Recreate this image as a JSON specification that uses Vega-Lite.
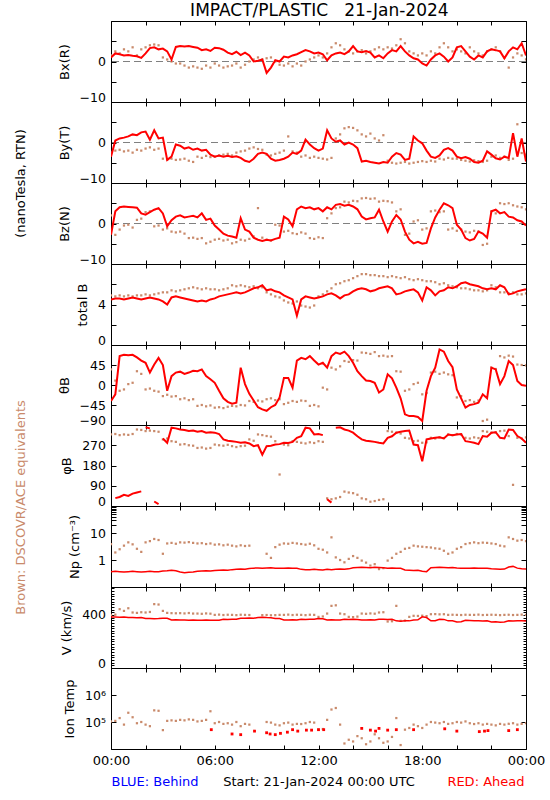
{
"$schema": "https://vega.github.io/schema/vega-lite/v6.json",
"background": "white",
"padding": {"left": 13, "top": 2, "right": 4, "bottom": 4},
"title": {"text": "IMPACT/PLASTIC\u00a0\u00a0\u00a021-Jan-2024", "font": "DejaVu Sans", "fontSize": 17, "fontWeight": "normal", "color": "#000000", "anchor": "middle", "baseline": "alphabetic", "offset": -13, "dx": 40},
"datasets": {
"main": [
{"t":0,"bxa":1.0,"bxd":1.5,"bya":-3.5,"byd":-2.5,"bza":-2.8,"bzd":2.0,"ba":4.5,"bd":4.9,"tha":-36,"thd":35,"pha":288,"phd":318,"npa":0.37,"npd":3.9,"va":385,"vd":400,"tid":105000},
{"t":0.25,"bxa":2.0,"bxd":2.5,"bya":0.5,"byd":-2.0,"bza":3.0,"bzd":-2.8,"ba":4.6,"bd":4.8,"tha":-21,"thd":10,"pha":null,"pha2":35,"phd":320,"npa":0.38,"npd":1.9,"va":385,"vd":402,"tid":110000},
{"t":0.5,"bxa":1.8,"bxd":2.0,"bya":1.0,"byd":-1.8,"bza":4.0,"bzd":-1.5,"ba":4.6,"bd":4.9,"tha":65,"thd":-13,"pha":null,"pha2":40,"phd":315,"npa":0.37,"npd":2.5,"va":383,"vd":443,"tid":140000},
{"t":0.75,"bxa":1.5,"bxd":3.0,"bya":1.2,"byd":-2.2,"bza":4.2,"bzd":-0.5,"ba":4.5,"bd":4.8,"tha":68,"thd":-10,"pha":null,"pha2":50,"phd":318,"npa":0.36,"npd":3.4,"va":384,"vd":430,"tid":80000},
{"t":1,"bxa":1.6,"bxd":2.5,"bya":1.5,"byd":-2.0,"bza":4.1,"bzd":-0.3,"ba":4.6,"bd":4.9,"tha":67,"thd":2,"pha":null,"pha2":45,"phd":316,"npa":0.37,"npd":4.5,"va":380,"vd":450,"tid":220000},
{"t":1.25,"bxa":1.4,"bxd":3.5,"bya":2.0,"byd":-2.5,"bza":4.0,"bzd":-1.0,"ba":4.7,"bd":4.8,"tha":68,"thd":5,"pha":null,"pha2":55,"phd":320,"npa":0.38,"npd":3.8,"va":381,"vd":418,"tid":150000},
{"t":1.5,"bxa":1.3,"bxd":1.5,"bya":1.8,"byd":-1.8,"bza":3.9,"bzd":0.9,"ba":4.6,"bd":4.9,"tha":62,"thd":31,"pha":null,"pha2":60,"phd":340,"npa":0.37,"npd":2.6,"va":379,"vd":415,"tid":90000},
{"t":1.75,"bxa":0.9,"bxd":3.0,"bya":2.5,"byd":-2.0,"bza":2.5,"bzd":1.2,"ba":4.5,"bd":4.9,"tha":55,"thd":25,"pha":null,"pha2":65,"phd":338,"npa":0.36,"npd":2.0,"va":380,"vd":420,"tid":100000},
{"t":2,"bxa":2.0,"bxd":3.5,"bya":2.7,"byd":-1.5,"bza":2.2,"bzd":2.8,"ba":4.6,"bd":5.0,"tha":50,"thd":-10,"pha":350,"phd":333,"npa":0.37,"npd":4.5,"va":372,"vd":418,"tid":80000},
{"t":2.25,"bxa":3.3,"bxd":4.0,"bya":0.7,"byd":-1.2,"bza":2.8,"bzd":3.0,"ba":4.7,"bd":4.9,"tha":28,"thd":-8,"pha":345,"phd":335,"npa":0.38,"npd":5.0,"va":373,"vd":422,"tid":70000},
{"t":2.5,"bxa":3.5,"bxd":4.2,"bya":3.0,"byd":-1.8,"bza":3.4,"bzd":-0.7,"ba":4.6,"bd":5.0,"tha":46,"thd":-13,"pha":null,"pha2":20,"phd":333,"npa":0.37,"npd":6.0,"va":371,"vd":481,"tid":270000},
{"t":2.75,"bxa":3.0,"bxd":4.0,"bya":1.0,"byd":-1.5,"bza":3.8,"bzd":-0.5,"ba":4.5,"bd":5.1,"tha":61,"thd":-15,"pha":null,"pha2":8,"phd":330,"npa":0.37,"npd":5.5,"va":372,"vd":478,"tid":260000},
{"t":3,"bxa":3.2,"bxd":1.0,"bya":1.2,"byd":-4.0,"bza":2.5,"bzd":-1.5,"ba":4.3,"bd":5.2,"tha":45,"thd":-25,"pha":300,"phd":296,"npa":0.39,"npd":1.7,"va":375,"vd":430,"tid":50000},
{"t":3.25,"bxa":2.5,"bxd":0.5,"bya":-4.3,"byd":-4.2,"bza":-0.7,"bzd":-1.2,"ba":4.0,"bd":5.2,"tha":-13,"thd":-22,"pha":281,"phd":300,"npa":0.40,"npd":4.1,"va":374,"vd":415,"tid":110000},
{"t":3.5,"bxa":0.5,"bxd":0.0,"bya":-3.5,"byd":-4.0,"bza":0.8,"bzd":-2.0,"ba":4.7,"bd":5.4,"tha":20,"thd":-26,"pha":348,"phd":288,"npa":0.42,"npd":4.3,"va":362,"vd":413,"tid":115000},
{"t":3.75,"bxa":3.6,"bxd":-0.5,"bya":-0.5,"byd":-4.3,"bza":1.7,"bzd":-2.2,"ba":4.8,"bd":5.3,"tha":28,"thd":-25,"pha":345,"phd":285,"npa":0.40,"npd":4.0,"va":363,"vd":412,"tid":110000},
{"t":4,"bxa":3.8,"bxd":-0.5,"bya":-0.8,"byd":-4.2,"bza":2.0,"bzd":-2.0,"ba":4.7,"bd":5.4,"tha":30,"thd":-32,"pha":340,"phd":273,"npa":0.36,"npd":4.5,"va":361,"vd":413,"tid":120000},
{"t":4.25,"bxa":3.7,"bxd":-1.0,"bya":-1.5,"byd":-4.0,"bza":1.5,"bzd":-2.5,"ba":4.6,"bd":5.5,"tha":25,"thd":-30,"pha":338,"phd":275,"npa":0.34,"npd":4.4,"va":362,"vd":411,"tid":115000},
{"t":4.5,"bxa":3.8,"bxd":-1.5,"bya":-1.2,"byd":-4.5,"bza":1.7,"bzd":-3.6,"ba":4.5,"bd":5.6,"tha":28,"thd":-34,"pha":333,"phd":270,"npa":0.35,"npd":4.6,"va":360,"vd":414,"tid":125000},
{"t":4.75,"bxa":3.6,"bxd":-1.2,"bya":-1.8,"byd":-4.8,"bza":1.9,"bzd":-3.5,"ba":4.4,"bd":5.7,"tha":32,"thd":-32,"pha":335,"phd":268,"npa":0.36,"npd":4.3,"va":361,"vd":410,"tid":120000},
{"t":5,"bxa":3.4,"bxd":-1.5,"bya":-1.5,"byd":-3.5,"bza":1.5,"bzd":-3.8,"ba":4.3,"bd":5.6,"tha":31,"thd":-47,"pha":330,"phd":258,"npa":0.38,"npd":4.1,"va":359,"vd":410,"tid":105000},
{"t":5.25,"bxa":2.8,"bxd":-1.8,"bya":-2.0,"byd":-3.8,"bza":2.5,"bzd":-3.6,"ba":4.4,"bd":5.5,"tha":35,"thd":-45,"pha":333,"phd":260,"npa":0.39,"npd":4.2,"va":360,"vd":408,"tid":110000},
{"t":5.5,"bxa":3.0,"bxd":-1.0,"bya":-1.8,"byd":-3.3,"bza":0.9,"bzd":-4.9,"ba":4.3,"bd":5.6,"tha":20,"thd":-48,"pha":326,"phd":255,"npa":0.40,"npd":3.9,"va":361,"vd":411,"tid":120000},
{"t":5.75,"bxa":2.6,"bxd":-1.5,"bya":-3.0,"byd":-3.6,"bza":1.2,"bzd":-4.5,"ba":4.5,"bd":5.5,"tha":13,"thd":-46,"pha":328,"phd":258,"npa":0.39,"npd":4.1,"va":360,"vd":409,"tid":250000},
{"t":6,"bxa":3.4,"bxd":-0.5,"bya":-3.5,"byd":-3.5,"bza":-0.5,"bzd":-4.0,"ba":4.6,"bd":5.5,"tha":5,"thd":-51,"pha":326,"phd":273,"npa":0.41,"npd":3.7,"va":359,"vd":400,"tid":90000},
{"t":6.25,"bxa":3.3,"bxd":-1.0,"bya":-3.2,"byd":-3.2,"bza":-1.5,"bzd":-3.8,"ba":4.8,"bd":5.4,"tha":-13,"thd":-50,"pha":320,"phd":270,"npa":0.42,"npd":3.8,"va":360,"vd":402,"tid":100000},
{"t":6.5,"bxa":2.9,"bxd":-1.5,"bya":-3.5,"byd":-3.0,"bza":-2.5,"bzd":-4.2,"ba":4.9,"bd":5.5,"tha":-30,"thd":-52,"pha":296,"phd":268,"npa":0.43,"npd":3.5,"va":367,"vd":399,"tid":85000},
{"t":6.75,"bxa":2.2,"bxd":-1.2,"bya":-3.3,"byd":-2.8,"bza":-3.0,"bzd":-4.0,"ba":5.0,"bd":5.6,"tha":-38,"thd":-49,"pha":290,"phd":272,"npa":0.42,"npd":3.7,"va":366,"vd":401,"tid":90000},
{"t":7,"bxa":1.8,"bxd":-1.0,"bya":-3.6,"byd":-3.2,"bza":-3.2,"bzd":-4.9,"ba":5.1,"bd":5.9,"tha":-42,"thd":-47,"pha":288,"phd":266,"npa":0.44,"npd":3.4,"va":367,"vd":400,"tid":80000},
{"t":7.25,"bxa":2.4,"bxd":-0.5,"bya":-3.4,"byd":-2.5,"bza":-3.5,"bzd":-4.6,"ba":5.2,"bd":5.8,"tha":-40,"thd":-48,"pha":285,"phd":262,"npa":0.45,"npd":3.2,"va":368,"vd":398,"tid":100000},
{"t":7.5,"bxa":1.6,"bxd":-1.5,"bya":-3.8,"byd":-2.2,"bza":1.3,"bzd":-4.0,"ba":5.1,"bd":5.9,"tha":39,"thd":-45,"pha":281,"phd":266,"npa":0.46,"npd":3.5,"va":375,"vd":401,"tid":70000},
{"t":7.75,"bxa":2.2,"bxd":-0.8,"bya":-4.5,"byd":-2.0,"bza":-1.5,"bzd":-4.2,"ba":5.2,"bd":5.8,"tha":2,"thd":-46,"pha":283,"phd":268,"npa":0.45,"npd":3.3,"va":374,"vd":400,"tid":85000},
{"t":8,"bxa":1.5,"bxd":0.0,"bya":-4.8,"byd":-1.5,"bza":-2.0,"bzd":-3.8,"ba":5.4,"bd":5.7,"tha":-20,"thd":-36,"pha":278,"phd":296,"npa":0.48,"npd":3.4,"va":376,"vd":399,"tid":80000},
{"t":8.25,"bxa":0.0,"bxd":0.5,"bya":-4.0,"byd":-1.2,"bza":-3.5,"bzd":-3.2,"ba":5.6,"bd":5.8,"tha":-35,"thd":-38,"pha":266,"phd":290,"npa":0.50,"npd":null,"va":375,"vd":null,"tid":null},
{"t":8.5,"bxa":0.2,"bxd":1.0,"bya":-2.8,"byd":-1.6,"bza":-4.0,"bzd":3.8,"ba":5.7,"bd":5.6,"tha":-50,"thd":-35,"pha":270,"phd":318,"npa":0.51,"npd":null,"va":380,"vd":null,"tid":null},
{"t":8.75,"bxa":0.5,"bxd":0.5,"bya":-2.5,"byd":-1.8,"bza":-4.3,"bzd":-3.5,"ba":5.9,"bd":5.7,"tha":-55,"thd":-37,"pha":228,"phd":315,"npa":0.50,"npd":null,"va":382,"vd":398,"tid":null},
{"t":9,"bxa":-2.8,"bxd":0.8,"bya":-2.8,"byd":-3.0,"bza":-4.0,"bzd":-4.0,"ba":5.4,"bd":5.2,"tha":-58,"thd":-32,"pha":266,"phd":311,"npa":0.51,"npd":1.7,"va":380,"vd":399,"tid":100000},
{"t":9.25,"bxa":-1.5,"bxd":1.0,"bya":-4.0,"byd":-3.2,"bza":-4.2,"bzd":-4.2,"ba":5.5,"bd":5.0,"tha":-50,"thd":-30,"pha":268,"phd":308,"npa":0.52,"npd":1.2,"va":379,"vd":397,"tid":95000},
{"t":9.5,"bxa":0.3,"bxd":0.0,"bya":-4.5,"byd":-2.8,"bza":-3.8,"bzd":-0.3,"ba":5.3,"bd":4.8,"tha":-45,"thd":-34,"pha":273,"phd":288,"npa":0.50,"npd":3.0,"va":372,"vd":398,"tid":80000},
{"t":9.75,"bxa":0.0,"bxd":-0.8,"bya":-4.3,"byd":-2.5,"bza":-3.5,"bzd":-0.5,"ba":5.2,"bd":4.7,"tha":-28,"thd":-32,"pha":275,"phd":140,"npa":0.49,"npd":3.7,"va":373,"vd":400,"tid":75000},
{"t":10,"bxa":1.2,"bxd":-1.0,"bya":-4.0,"byd":-2.0,"bza":1.7,"bzd":-2.0,"ba":4.9,"bd":4.4,"tha":16,"thd":-43,"pha":281,"phd":273,"npa":0.50,"npd":4.1,"va":362,"vd":400,"tid":90000},
{"t":10.25,"bxa":1.0,"bxd":-0.5,"bya":-3.5,"byd":1.5,"bza":1.0,"bzd":-1.8,"ba":4.7,"bd":4.2,"tha":16,"thd":-40,"pha":280,"phd":270,"npa":0.51,"npd":4.0,"va":361,"vd":402,"tid":95000},
{"t":10.5,"bxa":1.5,"bxd":-1.2,"bya":-2.5,"byd":-2.2,"bza":-0.7,"bzd":-2.4,"ba":4.5,"bd":4.1,"tha":-6,"thd":-36,"pha":285,"phd":288,"npa":0.50,"npd":4.3,"va":363,"vd":399,"tid":80000},
{"t":10.75,"bxa":1.8,"bxd":-0.5,"bya":-2.8,"byd":-2.5,"bza":3.5,"bzd":-2.6,"ba":2.9,"bd":4.3,"tha":55,"thd":-38,"pha":303,"phd":285,"npa":0.49,"npd":4.1,"va":362,"vd":401,"tid":85000},
{"t":11,"bxa":2.3,"bxd":-1.0,"bya":-2.0,"byd":-3.5,"bza":4.2,"bzd":-2.2,"ba":4.5,"bd":3.9,"tha":61,"thd":-35,"pha":310,"phd":281,"npa":0.45,"npd":3.9,"va":367,"vd":400,"tid":84000},
{"t":11.25,"bxa":2.8,"bxd":0.0,"bya":0.7,"byd":-3.2,"bza":3.8,"bzd":-2.5,"ba":4.8,"bd":3.8,"tha":58,"thd":-36,"pha":348,"phd":278,"npa":0.44,"npd":3.7,"va":366,"vd":398,"tid":90000},
{"t":11.5,"bxa":2.5,"bxd":0.5,"bya":-0.5,"byd":-3.8,"bza":4.0,"bzd":-3.6,"ba":4.7,"bd":3.7,"tha":65,"thd":-47,"pha":345,"phd":283,"npa":0.44,"npd":4.0,"va":368,"vd":401,"tid":100000},
{"t":11.75,"bxa":2.0,"bxd":1.0,"bya":-1.4,"byd":-3.5,"bza":3.5,"bzd":-3.8,"ba":4.6,"bd":3.9,"tha":55,"thd":-45,"pha":318,"phd":280,"npa":0.45,"npd":3.5,"va":367,"vd":400,"tid":95000},
{"t":12,"bxa":2.2,"bxd":1.5,"bya":-2.0,"byd":-3.8,"bza":3.8,"bzd":-3.4,"ba":4.7,"bd":4.8,"tha":46,"thd":-48,"pha":320,"phd":288,"npa":0.44,"npd":2.6,"va":372,"vd":385,"tid":52000},
{"t":12.25,"bxa":1.8,"bxd":1.0,"bya":-1.5,"byd":-4.0,"bza":3.0,"bzd":-3.6,"ba":4.8,"bd":5.0,"tha":50,"thd":-6,"pha":315,"phd":285,"npa":0.43,"npd":2.4,"va":371,"vd":388,"tid":55000},
{"t":12.5,"bxa":0.3,"bxd":2.0,"bya":3.0,"byd":-4.2,"bza":4.0,"bzd":1.3,"ba":5.0,"bd":5.3,"tha":39,"thd":-10,"pha":null,"pha2":30,"phd":34,"npa":0.45,"npd":1.9,"va":362,"vd":410,"tid":120000},
{"t":12.75,"bxa":1.5,"bxd":3.5,"bya":1.0,"byd":-3.8,"bza":3.5,"bzd":2.5,"ba":5.1,"bd":5.6,"tha":65,"thd":39,"pha":null,"pha2":15,"phd":30,"npa":0.44,"npd":6.9,"va":363,"vd":468,"tid":290000},
{"t":13,"bxa":2.0,"bxd":4.5,"bya":0.2,"byd":1.0,"bza":4.6,"bzd":3.8,"ba":4.9,"bd":6.0,"tha":73,"thd":35,"pha":348,"phd":34,"npa":0.45,"npd":1.25,"va":361,"vd":472,"tid":330000},
{"t":13.25,"bxa":2.2,"bxd":4.0,"bya":0.5,"byd":2.0,"bza":4.8,"bzd":4.0,"ba":4.6,"bd":6.1,"tha":70,"thd":42,"pha":350,"phd":40,"npa":0.46,"npd":1.0,"va":362,"vd":410,"tid":80000},
{"t":13.5,"bxa":1.8,"bxd":3.0,"bya":-0.5,"byd":3.5,"bza":4.4,"bzd":5.4,"ba":4.9,"bd":6.3,"tha":75,"thd":54,"pha":340,"phd":64,"npa":0.45,"npd":0.82,"va":367,"vd":405,"tid":16000},
{"t":13.75,"bxa":2.5,"bxd":2.5,"bya":0.0,"byd":3.8,"bza":4.6,"bzd":5.2,"ba":5.0,"bd":6.4,"tha":65,"thd":52,"pha":335,"phd":60,"npa":0.47,"npd":1.1,"va":366,"vd":385,"tid":22000},
{"t":14,"bxa":3.8,"bxd":2.0,"bya":-0.5,"byd":3.6,"bza":4.2,"bzd":5.6,"ba":5.3,"bd":6.6,"tha":50,"thd":56,"pha":326,"phd":57,"npa":0.52,"npd":1.4,"va":368,"vd":383,"tid":19000},
{"t":14.25,"bxa":2.5,"bxd":2.5,"bya":-1.4,"byd":3.0,"bza":3.5,"bzd":5.5,"ba":5.5,"bd":6.8,"tha":31,"thd":55,"pha":310,"phd":50,"npa":0.53,"npd":1.2,"va":366,"vd":387,"tid":30000},
{"t":14.5,"bxa":2.3,"bxd":2.8,"bya":-4.7,"byd":2.0,"bza":1.7,"bzd":6.2,"ba":5.6,"bd":7.0,"tha":20,"thd":73,"pha":296,"phd":34,"npa":0.54,"npd":0.95,"va":362,"vd":410,"tid":25000},
{"t":14.75,"bxa":2.6,"bxd":2.0,"bya":-4.5,"byd":1.5,"bza":1.0,"bzd":6.3,"ba":5.5,"bd":7.0,"tha":10,"thd":72,"pha":290,"phd":30,"npa":0.53,"npd":0.8,"va":361,"vd":408,"tid":15000},
{"t":15,"bxa":2.2,"bxd":2.5,"bya":-4.8,"byd":2.2,"bza":1.3,"bzd":6.1,"ba":5.3,"bd":6.9,"tha":9,"thd":70,"pha":288,"phd":19,"npa":0.52,"npd":0.62,"va":363,"vd":411,"tid":19000},
{"t":15.25,"bxa":1.0,"bxd":3.0,"bya":-5.0,"byd":1.0,"bza":1.5,"bzd":6.2,"ba":5.4,"bd":6.9,"tha":5,"thd":74,"pha":285,"phd":22,"npa":0.54,"npd":0.7,"va":362,"vd":409,"tid":35000},
{"t":15.5,"bxa":1.5,"bxd":3.5,"bya":-5.2,"byd":0.5,"bza":3.4,"bzd":5.4,"ba":5.6,"bd":6.8,"tha":-17,"thd":65,"pha":281,"phd":27,"npa":0.53,"npd":0.46,"va":367,"vd":418,"tid":25000},
{"t":15.75,"bxa":0.8,"bxd":3.0,"bya":-4.8,"byd":1.8,"bza":0.5,"bzd":5.6,"ba":5.7,"bd":6.8,"tha":-10,"thd":66,"pha":278,"phd":30,"npa":0.52,"npd":0.5,"va":368,"vd":420,"tid":17000},
{"t":16,"bxa":2.0,"bxd":3.5,"bya":-5.0,"byd":-4.5,"bza":-2.0,"bzd":5.5,"ba":5.8,"bd":6.7,"tha":24,"thd":64,"pha":303,"phd":333,"npa":0.50,"npd":0.95,"va":366,"vd":350,"tid":19000},
{"t":16.25,"bxa":2.8,"bxd":3.2,"bya":-3.5,"byd":-5.0,"bza":0.5,"bzd":5.2,"ba":5.6,"bd":6.8,"tha":15,"thd":65,"pha":310,"phd":330,"npa":0.51,"npd":1.2,"va":367,"vd":352,"tid":28000},
{"t":16.5,"bxa":2.5,"bxd":4.0,"bya":-2.6,"byd":-5.2,"bza":2.1,"bzd":3.0,"ba":5.0,"bd":6.7,"tha":-6,"thd":31,"pha":326,"phd":326,"npa":0.50,"npd":1.7,"va":355,"vd":468,"tid":140000},
{"t":16.75,"bxa":3.8,"bxd":5.5,"bya":-3.0,"byd":-5.0,"bza":1.0,"bzd":3.5,"ba":5.1,"bd":6.6,"tha":-30,"thd":30,"pha":330,"phd":322,"npa":0.49,"npd":2.0,"va":352,"vd":355,"tid":14000},
{"t":17,"bxa":2.5,"bxd":4.5,"bya":-4.3,"byd":-4.8,"bza":-2.0,"bzd":-2.8,"ba":5.3,"bd":6.7,"tha":-66,"thd":-13,"pha":333,"phd":303,"npa":0.43,"npd":2.6,"va":356,"vd":357,"tid":52000},
{"t":17.25,"bxa":1.5,"bxd":2.5,"bya":-4.0,"byd":-5.2,"bza":-4.0,"bzd":-2.5,"ba":5.4,"bd":6.5,"tha":-70,"thd":-10,"pha":335,"phd":300,"npa":0.42,"npd":2.8,"va":355,"vd":385,"tid":60000},
{"t":17.5,"bxa":0.8,"bxd":2.0,"bya":1.5,"byd":-5.0,"bza":-4.9,"bzd":0.5,"ba":5.5,"bd":6.4,"tha":-70,"thd":2,"pha":273,"phd":288,"npa":0.41,"npd":3.4,"va":362,"vd":393,"tid":80000},
{"t":17.75,"bxa":0.5,"bxd":1.5,"bya":0.5,"byd":-4.8,"bza":-4.5,"bzd":0.8,"ba":5.2,"bd":6.5,"tha":-72,"thd":5,"pha":270,"phd":290,"npa":0.42,"npd":3.2,"va":363,"vd":392,"tid":70000},
{"t":18,"bxa":-0.5,"bxd":2.0,"bya":-0.2,"byd":-4.6,"bza":-5.0,"bzd":-1.5,"ba":4.4,"bd":6.4,"tha":-81,"thd":-21,"pha":199,"phd":281,"npa":0.38,"npd":3.1,"va":385,"vd":394,"tid":60000},
{"t":18.25,"bxa":-1.0,"bxd":1.5,"bya":-2.0,"byd":-4.8,"bza":-4.8,"bzd":-1.2,"ba":5.7,"bd":6.3,"tha":-13,"thd":-18,"pha":296,"phd":283,"npa":0.37,"npd":3.0,"va":380,"vd":391,"tid":80000},
{"t":18.5,"bxa":0.5,"bxd":2.5,"bya":-3.5,"byd":-4.5,"bza":-1.2,"bzd":3.0,"ba":5.4,"bd":6.3,"tha":20,"thd":28,"pha":300,"phd":303,"npa":0.52,"npd":2.9,"va":355,"vd":405,"tid":100000},
{"t":18.75,"bxa":1.5,"bxd":2.0,"bya":-3.8,"byd":-4.7,"bza":1.5,"bzd":3.2,"ba":4.9,"bd":6.2,"tha":39,"thd":30,"pha":303,"phd":300,"npa":0.53,"npd":2.7,"va":356,"vd":406,"tid":95000},
{"t":19,"bxa":2.0,"bxd":3.5,"bya":-3.2,"byd":-4.0,"bza":3.4,"bzd":2.8,"ba":5.3,"bd":6.0,"tha":80,"thd":25,"pha":305,"phd":305,"npa":0.54,"npd":2.6,"va":367,"vd":404,"tid":90000},
{"t":19.25,"bxa":1.2,"bxd":4.5,"bya":-1.8,"byd":-4.2,"bza":5.0,"bzd":3.0,"ba":5.4,"bd":6.1,"tha":75,"thd":28,"pha":300,"phd":302,"npa":0.53,"npd":2.2,"va":366,"vd":405,"tid":100000},
{"t":19.5,"bxa":0.0,"bxd":3.5,"bya":-1.4,"byd":-3.8,"bza":4.5,"bzd":-1.5,"ba":5.7,"bd":5.9,"tha":54,"thd":24,"pha":318,"phd":318,"npa":0.52,"npd":1.7,"va":355,"vd":400,"tid":85000},
{"t":19.75,"bxa":1.0,"bxd":2.5,"bya":-2.0,"byd":-4.0,"bza":3.8,"bzd":-1.2,"ba":5.6,"bd":5.8,"tha":40,"thd":22,"pha":315,"phd":315,"npa":0.53,"npd":1.9,"va":356,"vd":401,"tid":90000},
{"t":20,"bxa":3.5,"bxd":3.0,"bya":-3.5,"byd":-4.0,"bza":-0.3,"bzd":-1.8,"ba":5.8,"bd":5.7,"tha":-10,"thd":-28,"pha":318,"phd":320,"npa":0.51,"npd":2.6,"va":347,"vd":400,"tid":100000},
{"t":20.25,"bxa":3.8,"bxd":2.5,"bya":-3.9,"byd":-4.3,"bza":-1.5,"bzd":-1.5,"ba":6.1,"bd":5.6,"tha":-30,"thd":-25,"pha":320,"phd":318,"npa":0.50,"npd":3.0,"va":348,"vd":399,"tid":95000},
{"t":20.5,"bxa":2.5,"bxd":2.0,"bya":-3.6,"byd":-4.5,"bza":-3.6,"bzd":-2.0,"ba":6.2,"bd":5.6,"tha":-51,"thd":-36,"pha":288,"phd":303,"npa":0.49,"npd":3.9,"va":360,"vd":401,"tid":105000},
{"t":20.75,"bxa":1.2,"bxd":3.5,"bya":-4.0,"byd":-4.7,"bza":-4.2,"bzd":-2.2,"ba":6.0,"bd":5.5,"tha":-45,"thd":-34,"pha":285,"phd":300,"npa":0.50,"npd":4.2,"va":358,"vd":400,"tid":90000},
{"t":21,"bxa":0.5,"bxd":2.5,"bya":-4.8,"byd":-4.4,"bza":-3.8,"bzd":-1.8,"ba":5.9,"bd":5.4,"tha":-43,"thd":-38,"pha":281,"phd":305,"npa":0.51,"npd":4.5,"va":355,"vd":400,"tid":84000},
{"t":21.25,"bxa":1.5,"bxd":2.0,"bya":-5.0,"byd":-4.6,"bza":-2.0,"bzd":-2.0,"ba":5.8,"bd":5.4,"tha":-40,"thd":-35,"pha":275,"phd":302,"npa":0.50,"npd":4.2,"va":356,"vd":402,"tid":90000},
{"t":21.5,"bxa":1.0,"bxd":1.5,"bya":-4.5,"byd":-4.8,"bza":-2.5,"bzd":-5.3,"ba":5.6,"bd":5.3,"tha":-21,"thd":-81,"pha":311,"phd":333,"npa":0.50,"npd":4.4,"va":354,"vd":399,"tid":80000},
{"t":21.75,"bxa":2.5,"bxd":2.5,"bya":-2.2,"byd":-4.5,"bza":-3.5,"bzd":-5.0,"ba":5.5,"bd":5.4,"tha":-30,"thd":-78,"pha":308,"phd":330,"npa":0.49,"npd":4.3,"va":355,"vd":400,"tid":85000},
{"t":22,"bxa":3.0,"bxd":3.0,"bya":-3.0,"byd":-3.5,"bza":3.0,"bzd":3.0,"ba":5.6,"bd":5.9,"tha":39,"thd":39,"pha":326,"phd":326,"npa":0.47,"npd":4.1,"va":347,"vd":401,"tid":80000},
{"t":22.25,"bxa":2.8,"bxd":3.5,"bya":-3.9,"byd":-3.2,"bza":3.4,"bzd":2.5,"ba":5.5,"bd":5.7,"tha":35,"thd":36,"pha":328,"phd":328,"npa":0.46,"npd":3.9,"va":348,"vd":400,"tid":75000},
{"t":22.5,"bxa":2.5,"bxd":2.5,"bya":-4.2,"byd":-3.8,"bza":2.5,"bzd":5.0,"ba":5.9,"bd":5.2,"tha":2,"thd":65,"pha":303,"phd":333,"npa":0.45,"npd":3.4,"va":345,"vd":398,"tid":85000},
{"t":22.75,"bxa":0.8,"bxd":1.0,"bya":-3.5,"byd":-3.5,"bza":2.8,"bzd":4.8,"ba":5.7,"bd":5.2,"tha":20,"thd":62,"pha":300,"phd":335,"npa":0.46,"npd":3.2,"va":347,"vd":400,"tid":80000},
{"t":23,"bxa":2.5,"bxd":-1.5,"bya":-3.8,"byd":-4.3,"bza":1.7,"bzd":5.0,"ba":5.0,"bd":5.1,"tha":54,"thd":66,"pha":340,"phd":311,"npa":0.55,"npd":6.9,"va":355,"vd":401,"tid":86000},
{"t":23.25,"bxa":3.5,"bxd":1.0,"bya":2.3,"byd":-4.0,"bza":1.5,"bzd":4.5,"ba":5.1,"bd":5.2,"tha":45,"thd":64,"pha":338,"phd":94,"npa":0.58,"npd":6.0,"va":354,"vd":399,"tid":90000},
{"t":23.5,"bxa":3.0,"bxd":2.0,"bya":-3.5,"byd":4.5,"bza":0.8,"bzd":4.2,"ba":5.3,"bd":5.0,"tha":9,"thd":46,"pha":311,"phd":303,"npa":0.50,"npd":5.2,"va":356,"vd":400,"tid":80000},
{"t":23.75,"bxa":4.5,"bxd":1.5,"bya":1.0,"byd":-2.6,"bza":0.5,"bzd":4.0,"ba":5.4,"bd":5.0,"tha":0,"thd":45,"pha":300,"phd":300,"npa":0.47,"npd":5.5,"va":355,"vd":402,"tid":85000},
{"t":24,"bxa":1.5,"bxd":0.5,"bya":-4.7,"byd":-3.0,"bza":-0.5,"bzd":3.5,"ba":5.5,"bd":5.1,"tha":-2,"thd":44,"pha":281,"phd":305,"npa":0.46,"npd":5.0,"va":353,"vd":400,"tid":90000}
],
"tia": [
{"t":5.8,"ti":52000},{"t":7.0,"ti":36000},{"t":7.5,"ti":34000},{"t":8.3,"ti":46000},{"t":9.0,"ti":40000},{"t":9.2,"ti":36000},{"t":9.5,"ti":34000},{"t":9.8,"ti":38000},{"t":10.2,"ti":42000},{"t":10.5,"ti":52000},{"t":10.8,"ti":46000},{"t":11.3,"ti":50000},{"t":11.6,"ti":50000},{"t":12.0,"ti":52000},{"t":12.3,"ti":52000},{"t":14.5,"ti":58000},{"t":15.0,"ti":50000},{"t":15.3,"ti":46000},{"t":15.5,"ti":58000},{"t":16.0,"ti":50000},{"t":16.5,"ti":52000},{"t":17.5,"ti":52000},{"t":19.3,"ti":56000},{"t":20.0,"ti":46000},{"t":21.3,"ti":44000},{"t":21.6,"ti":46000},{"t":21.8,"ti":48000},{"t":23.0,"ti":48000},{"t":23.5,"ti":52000}
]
},
"data": {"name": "main"},
"spacing": 0,
"bounds": "flush",
"vconcat": [
{"width": 415, "height": 81,
 "layer": [
  {"mark": {"type": "rule", "color": "#808080", "strokeDash": [7, 4], "strokeWidth": 1}, "encoding": {"y": {"datum": 0, "type": "quantitative", "axis": null}}},
  {"mark": {"type": "point", "shape": "square", "filled": true, "size": 5, "opacity": 1, "color": "#c98a6b", "clip": true},
   "encoding": {"x": {"field": "t", "type": "quantitative", "scale": {"domain": [0, 24], "nice": false, "zero": false}, "axis": {"orient": "bottom", "values": [0,2,4,6,8,10,12,14,16,18,20,22,24], "labels": false, "title": null}},
    "y": {"field": "bxd", "type": "quantitative", "scale": {"domain": [-10, 10], "nice": false, "zero": false}, "axis": {"orient": "left", "values": [-10,-5,0,5,10], "labelExpr": "datum.value == 0 || datum.value == -10 ? datum.label : ''", "title": "Bx(R)"}}}},
  {"mark": {"type": "line", "color": "#ff0000", "strokeWidth": 2, "clip": true, "invalid": "break-paths-filter-domains"},
   "encoding": {"x": {"field": "t", "type": "quantitative", "axis": {"orient": "top", "values": [0,2,4,6,8,10,12,14,16,18,20,22,24], "labels": false, "title": null}},
    "y": {"field": "bxa", "type": "quantitative", "axis": {"orient": "right", "values": [-10,-5,0,5,10], "labels": false, "title": null}}}}
 ],
 "resolve": {"axis": {"x": "independent", "y": "independent"}}},
{"width": 415, "height": 81,
 "layer": [
  {"mark": {"type": "rule", "color": "#808080", "strokeDash": [7, 4], "strokeWidth": 1}, "encoding": {"y": {"datum": 0, "type": "quantitative", "axis": null}}},
  {"mark": {"type": "point", "shape": "square", "filled": true, "size": 5, "opacity": 1, "color": "#c98a6b", "clip": true},
   "encoding": {"x": {"field": "t", "type": "quantitative", "scale": {"domain": [0, 24], "nice": false, "zero": false}, "axis": {"orient": "bottom", "values": [0,2,4,6,8,10,12,14,16,18,20,22,24], "labels": false, "title": null}},
    "y": {"field": "byd", "type": "quantitative", "scale": {"domain": [-10, 10], "nice": false, "zero": false}, "axis": {"orient": "left", "values": [-10,-5,0,5,10], "labelExpr": "datum.value == 0 || datum.value == -10 ? datum.label : ''", "title": "By(T)"}}}},
  {"mark": {"type": "line", "color": "#ff0000", "strokeWidth": 2, "clip": true, "invalid": "break-paths-filter-domains"},
   "encoding": {"x": {"field": "t", "type": "quantitative", "axis": {"orient": "top", "values": [0,2,4,6,8,10,12,14,16,18,20,22,24], "labels": false, "title": null}},
    "y": {"field": "bya", "type": "quantitative", "axis": {"orient": "right", "values": [-10,-5,0,5,10], "labels": false, "title": null}}}}
 ],
 "resolve": {"axis": {"x": "independent", "y": "independent"}}},
{"width": 415, "height": 81,
 "layer": [
  {"mark": {"type": "rule", "color": "#808080", "strokeDash": [7, 4], "strokeWidth": 1}, "encoding": {"y": {"datum": 0, "type": "quantitative", "axis": {"orient": "left", "labels": false, "ticks": false, "title": "(nanoTesla, RTN)", "titleX": -91, "titleY": 0, "titleAngle": 270, "titleAlign": "center", "titleBaseline": "middle", "titleFontSize": 13}}}},
  {"mark": {"type": "point", "shape": "square", "filled": true, "size": 5, "opacity": 1, "color": "#c98a6b", "clip": true},
   "encoding": {"x": {"field": "t", "type": "quantitative", "scale": {"domain": [0, 24], "nice": false, "zero": false}, "axis": {"orient": "bottom", "values": [0,2,4,6,8,10,12,14,16,18,20,22,24], "labels": false, "title": null}},
    "y": {"field": "bzd", "type": "quantitative", "scale": {"domain": [-10, 10], "nice": false, "zero": false}, "axis": {"orient": "left", "values": [-10,-5,0,5,10], "labelExpr": "datum.value == 0 || datum.value == -10 ? datum.label : ''", "title": "Bz(N)"}}}},
  {"mark": {"type": "line", "color": "#ff0000", "strokeWidth": 2, "clip": true, "invalid": "break-paths-filter-domains"},
   "encoding": {"x": {"field": "t", "type": "quantitative", "axis": {"orient": "top", "values": [0,2,4,6,8,10,12,14,16,18,20,22,24], "labels": false, "title": null}},
    "y": {"field": "bza", "type": "quantitative", "axis": {"orient": "right", "values": [-10,-5,0,5,10], "labels": false, "title": null}}}}
 ],
 "resolve": {"axis": {"x": "independent", "y": "independent"}}},
{"width": 415, "height": 81,
 "layer": [
  {"mark": {"type": "point", "shape": "square", "filled": true, "size": 5, "opacity": 1, "color": "#c98a6b", "clip": true},
   "encoding": {"x": {"field": "t", "type": "quantitative", "scale": {"domain": [0, 24], "nice": false, "zero": false}, "axis": {"orient": "bottom", "values": [0,2,4,6,8,10,12,14,16,18,20,22,24], "labels": false, "title": null}},
    "y": {"field": "bd", "type": "quantitative", "scale": {"domain": [0, 8], "nice": false, "zero": false}, "axis": {"orient": "left", "values": [0,2,4,6,8], "labelExpr": "datum.value == 0 || datum.value == 4 ? datum.label : ''", "title": "total B"}}}},
  {"mark": {"type": "line", "color": "#ff0000", "strokeWidth": 2, "clip": true, "invalid": "break-paths-filter-domains"},
   "encoding": {"x": {"field": "t", "type": "quantitative", "axis": {"orient": "top", "values": [0,2,4,6,8,10,12,14,16,18,20,22,24], "labels": false, "title": null}},
    "y": {"field": "ba", "type": "quantitative", "axis": {"orient": "right", "values": [0,2,4,6,8], "labels": false, "title": null}}}}
 ],
 "resolve": {"axis": {"x": "independent", "y": "independent"}}},
{"width": 415, "height": 80,
 "layer": [
  {"mark": {"type": "point", "shape": "square", "filled": true, "size": 5, "opacity": 1, "color": "#c98a6b", "clip": true},
   "encoding": {"x": {"field": "t", "type": "quantitative", "scale": {"domain": [0, 24], "nice": false, "zero": false}, "axis": {"orient": "bottom", "values": [0,2,4,6,8,10,12,14,16,18,20,22,24], "labels": false, "title": null}},
    "y": {"field": "thd", "type": "quantitative", "scale": {"domain": [-90, 90], "nice": false, "zero": false}, "axis": {"orient": "left", "values": [-90,-45,0,45,90], "labelExpr": "datum.value == 90 ? '' : datum.label", "title": "θB"}}}},
  {"mark": {"type": "line", "color": "#ff0000", "strokeWidth": 2, "clip": true, "invalid": "break-paths-filter-domains"},
   "encoding": {"x": {"field": "t", "type": "quantitative", "axis": {"orient": "top", "values": [0,2,4,6,8,10,12,14,16,18,20,22,24], "labels": false, "title": null}},
    "y": {"field": "tha", "type": "quantitative", "axis": {"orient": "right", "values": [-90,-45,0,45,90], "labels": false, "title": null}}}}
 ],
 "resolve": {"axis": {"x": "independent", "y": "independent"}}},
{"width": 415, "height": 81,
 "layer": [
  {"mark": {"type": "point", "shape": "square", "filled": true, "size": 5, "opacity": 1, "color": "#c98a6b", "clip": true},
   "encoding": {"x": {"field": "t", "type": "quantitative", "scale": {"domain": [0, 24], "nice": false, "zero": false}, "axis": {"orient": "bottom", "values": [0,2,4,6,8,10,12,14,16,18,20,22,24], "labels": false, "title": null}},
    "y": {"field": "phd", "type": "quantitative", "scale": {"domain": [0, 360], "nice": false, "zero": false}, "axis": {"orient": "left", "values": [0,90,180,270,360], "labelExpr": "datum.value == 360 ? '' : datum.label", "title": "φB"}}}},
  {"mark": {"type": "line", "color": "#ff0000", "strokeWidth": 2, "clip": true, "invalid": "break-paths-filter-domains"},
   "encoding": {"x": {"field": "t", "type": "quantitative", "axis": {"orient": "top", "values": [0,2,4,6,8,10,12,14,16,18,20,22,24], "labels": false, "title": null}},
    "y": {"field": "pha", "type": "quantitative", "axis": {"orient": "right", "values": [0,90,180,270,360], "labels": false, "title": null}}}},
  {"mark": {"type": "line", "color": "#ff0000", "strokeWidth": 2, "clip": true, "invalid": "break-paths-filter-domains"},
   "encoding": {"x": {"field": "t", "type": "quantitative", "axis": null},
    "y": {"field": "pha2", "type": "quantitative", "axis": null}}}
 ],
 "resolve": {"axis": {"x": "independent", "y": "independent"}}},
{"width": 415, "height": 81,
 "layer": [
  {"mark": {"type": "point", "shape": "square", "filled": true, "size": 5, "opacity": 1, "color": "#c98a6b", "clip": true},
   "encoding": {"x": {"field": "t", "type": "quantitative", "scale": {"domain": [0, 24], "nice": false, "zero": false}, "axis": {"orient": "bottom", "values": [0,2,4,6,8,10,12,14,16,18,20,22,24], "labels": false, "title": null}},
    "y": {"field": "npd", "type": "quantitative", "scale": {"type": "log", "domain": [0.1, 100], "nice": false}, "axis": {"orient": "left", "values": [0.1,1,10,100,20,30,40,50,60,70,80,90], "labelExpr": "datum.value == 1 ? '1' : datum.value == 10 ? '10' : ''", "title": "Np (cm⁻³)"}}}},
  {"mark": {"type": "line", "color": "#ff0000", "strokeWidth": 1.5, "clip": true, "invalid": "break-paths-filter-domains"},
   "encoding": {"x": {"field": "t", "type": "quantitative", "axis": {"orient": "top", "values": [0,2,4,6,8,10,12,14,16,18,20,22,24], "labels": false, "title": null}},
    "y": {"field": "npa", "type": "quantitative", "axis": {"orient": "right", "values": [0.1,1,10,100,20,30,40,50,60,70,80,90], "labels": false, "title": null}}}},
  {"mark": {"type": "point", "opacity": 0},
   "encoding": {"x": {"field": "t", "type": "quantitative", "axis": null},
    "y": {"field": "npd", "type": "quantitative", "axis": {"orient": "left", "labels": false, "ticks": false, "title": "Brown: DSCOVR/ACE equivalents", "titleColor": "#c98a6b", "titleX": -91, "titleY": 1, "titleAngle": 270, "titleAlign": "center", "titleBaseline": "middle", "titleFontSize": 13}}}}
 ],
 "resolve": {"axis": {"x": "independent", "y": "independent"}}},
{"width": 415, "height": 81,
 "layer": [
  {"mark": {"type": "point", "shape": "square", "filled": true, "size": 5, "opacity": 1, "color": "#c98a6b", "clip": true},
   "encoding": {"x": {"field": "t", "type": "quantitative", "scale": {"domain": [0, 24], "nice": false, "zero": false}, "axis": {"orient": "bottom", "values": [0,2,4,6,8,10,12,14,16,18,20,22,24], "labels": false, "title": null}},
    "y": {"field": "vd", "type": "quantitative", "scale": {"domain": [0, 610], "nice": false, "zero": false}, "axis": {"orient": "left", "values": [0,20,40,60,80,100,120,140,160,180,200,220,240,260,280,300,320,340,360,380,400,420,440,460,480,500,520,540,560,580,600], "tickSize": -3, "labelPadding": 8.5, "labelExpr": "datum.value == 0 || datum.value == 400 ? datum.label : ''", "title": "V (km/s)"}}}},
  {"mark": {"type": "line", "color": "#ff0000", "strokeWidth": 1.5, "clip": true, "invalid": "break-paths-filter-domains"},
   "encoding": {"x": {"field": "t", "type": "quantitative", "axis": {"orient": "top", "values": [0,2,4,6,8,10,12,14,16,18,20,22,24], "labels": false, "title": null}},
    "y": {"field": "va", "type": "quantitative", "axis": {"orient": "right", "values": [0,20,40,60,80,100,120,140,160,180,200,220,240,260,280,300,320,340,360,380,400,420,440,460,480,500,520,540,560,580,600], "tickSize": -3, "labels": false, "title": null}}}}
 ],
 "resolve": {"axis": {"x": "independent", "y": "independent"}}},
{"width": 415, "height": 81,
 "layer": [
  {"mark": {"type": "point", "shape": "square", "filled": true, "size": 5, "opacity": 1, "color": "#c98a6b", "clip": true},
   "encoding": {"x": {"field": "t", "type": "quantitative", "scale": {"domain": [0, 24], "nice": false, "zero": false}, "axis": {"orient": "bottom", "values": [0,2,4,6,8,10,12,14,16,18,20,22,24], "labels": true, "labelFontSize": 13, "labelPadding": 9, "labelExpr": "datum.value % 6 == 0 ? ((datum.value % 24) < 10 ? '0' : '') + (datum.value % 24) + ':00' : ''", "title": "Start: 21-Jan-2024 00:00 UTC", "titleX": 207.5, "titleY": 36, "titleAlign": "center", "titleBaseline": "alphabetic"}},
    "y": {"field": "tid", "type": "quantitative", "scale": {"type": "log", "domain": [10000, 10000000], "nice": false}, "axis": {"orient": "left", "values": [10000,100000,1000000,10000000], "labelExpr": "datum.value == 100000 ? '10⁵' : datum.value == 1000000 ? '10⁶' : ''", "title": "Ion Temp"}}}},
  {"data": {"name": "tia"},
   "mark": {"type": "point", "shape": "square", "filled": true, "size": 8, "opacity": 1, "color": "#ff0000", "clip": true},
   "encoding": {"x": {"field": "t", "type": "quantitative", "axis": {"orient": "top", "values": [0,2,4,6,8,10,12,14,16,18,20,22,24], "labels": false, "title": null}},
    "y": {"field": "ti", "type": "quantitative", "axis": {"orient": "right", "values": [10000,100000,1000000,10000000], "labels": false, "title": null}}}},
  {"mark": {"type": "point", "opacity": 0},
   "encoding": {"x": {"field": "t", "type": "quantitative", "axis": {"orient": "bottom", "labels": false, "ticks": false, "title": "BLUE: Behind", "titleColor": "#0000ff", "titleX": 0, "titleY": 36, "titleAlign": "left", "titleBaseline": "alphabetic"}},
    "y": {"field": "tid", "type": "quantitative", "axis": null}}},
  {"mark": {"type": "point", "opacity": 0},
   "encoding": {"x": {"field": "t", "type": "quantitative", "axis": {"orient": "bottom", "labels": false, "ticks": false, "title": "RED: Ahead", "titleColor": "#ff0000", "titleX": 413, "titleY": 36, "titleAlign": "right", "titleBaseline": "alphabetic"}},
    "y": {"field": "tid", "type": "quantitative", "axis": null}}}
 ],
 "resolve": {"axis": {"x": "independent", "y": "independent"}}}
],
"config": {
 "font": "DejaVu Sans",
 "view": {"stroke": "#000000", "strokeWidth": 1},
 "axis": {"domain": false, "grid": false, "tickColor": "#000000", "tickWidth": 1, "labelColor": "#000000", "labelFont": "DejaVu Sans", "labelFontSize": 12.5, "titleFont": "DejaVu Sans", "titleFontSize": 13, "titleFontWeight": "normal", "titleColor": "#000000"},
 "axisX": {"tickSize": -4, "labelPadding": 13, "labelFlush": false},
 "axisY": {"tickSize": -5, "labelPadding": 10.5, "titlePadding": 8, "labelFlush": true, "labelFlushOffset": 2}
}
}
